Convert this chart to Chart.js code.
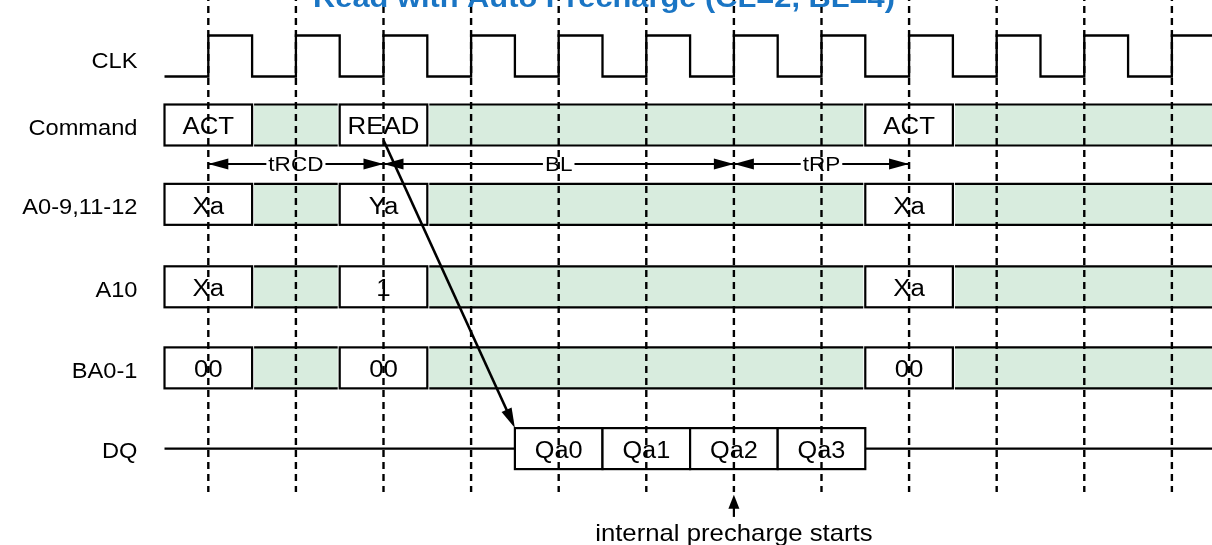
<!DOCTYPE html>
<html>
<head>
<meta charset="utf-8">
<script src="https://cdn.jsdelivr.net/npm/chart.js@4.4.1/dist/chart.umd.min.js"></script>
<style>
  html, body { margin: 0; padding: 0; background: #fff; }
  #wrap { width: 1212px; height: 545px; position: relative; }
</style>
</head>
<body>
<div id="wrap"><canvas id="timing"></canvas></div>
<script>
/* global Chart */
// time is in clock cycles, rising edge k sits at t = k
const titleText = 'Read with Auto Precharge (CL=2, BL=4)';
const rowNames = ['CLK', 'Command', 'A0-9,11-12', 'A10', 'BA0-1', 'DQ'];
const rowLevels = [0, 1, 2.15, 3.345, 4.52, 5.69];
const clockRise = [0, 1, 2, 3, 4, 5, 6, 7, 8, 9, 10, 11];
// bus rows: segment edges, text per segment (null = don't care / green)
const busEdges = [-0.5, 0.5, 1.5, 2.5, 7.5, 8.5, 11.6];
const cmdText = ['ACT', null, 'READ', null, 'ACT', null];
const addrText = ['Xa', null, 'Ya', null, 'Xa', null];
const a10Text = ['Xa', null, '1', null, 'Xa', null];
const baText = ['00', null, '00', null, '00', null];
const dqEdges = [3.5, 4.5, 5.5, 6.5, 7.5];
const dqText = ['Qa0', 'Qa1', 'Qa2', 'Qa3'];
// timing spans
const spanFrom = [0, 2, 6];
const spanTo = [2, 6, 8];
const spanText = ['tRCD', 'BL', 'tRP'];
const spanLevel = 1.565;
// READ -> Qa0 arrow, precharge marker
const readArrowFrom = [2, 1.22];
const readArrowTo = [3.5, 5.39];
const prechargeAt = 6;
const prechargeText = 'internal precharge starts';
const dashTop = -0.9;
const dashBottom = 6.32;

const green = 'rgb(216, 236, 222)';
const stretch = 1.1;
const fam = '"Liberation Sans", Arial, Helvetica, sans-serif';
const half = 0.297;

// text with its caps centred on y, slightly widened like the source
function stext(ctx, txt, x, y, size, align, weight, color) {
    ctx.save();
    ctx.font = (weight || 'normal') + ' ' + size + 'px ' + fam;
    ctx.fillStyle = color || '#000';
    ctx.textBaseline = 'alphabetic';
    const w = ctx.measureText(txt).width * stretch;
    let x0 = x;
    if (align === 'center') x0 = x - w / 2;
    if (align === 'right') x0 = x - w;
    ctx.translate(x0, y + size * 0.36);
    ctx.scale(stretch, 1);
    ctx.fillText(txt, 0, 0);
    ctx.restore();
    return w;
}

function arrowHead(ctx, x1, y1, x2, y2, len, wid) {
    const a = Math.atan2(y2 - y1, x2 - x1);
    ctx.save();
    ctx.translate(x2, y2);
    ctx.rotate(a);
    ctx.beginPath();
    ctx.moveTo(0, 0);
    ctx.lineTo(-len, -wid / 2);
    ctx.lineTo(-len, wid / 2);
    ctx.closePath();
    ctx.fillStyle = '#000';
    ctx.fill();
    ctx.restore();
}

// clock waveform from the rising edges
const clockPts = [{ x: -0.5, y: rowLevels[0] + half }];
clockRise.forEach(k => {
    clockPts.push({ x: k, y: rowLevels[0] + half });
    clockPts.push({ x: k, y: rowLevels[0] - half });
    clockPts.push({ x: k + 0.5, y: rowLevels[0] - half });
    clockPts.push({ x: k + 0.5, y: rowLevels[0] + half });
});

const dqLine = [
    { x: -0.5, y: rowLevels[5] }, { x: dqEdges[0], y: rowLevels[5] },
    { x: dqEdges[0], y: null },
    { x: dqEdges[dqEdges.length - 1], y: rowLevels[5] }, { x: 11.6, y: rowLevels[5] }
];

const datasets = [
    { data: clockPts, borderColor: '#000', borderWidth: 2.3, pointRadius: 0, tension: 0 },
    { data: dqLine, borderColor: '#000', borderWidth: 2.2, pointRadius: 0, spanGaps: false }
];
clockRise.forEach(k => {
    datasets.push({
        data: [{ x: k, y: dashTop }, { x: k, y: dashBottom }],
        borderColor: '#000', borderWidth: 2.4, borderDash: [7, 5], pointRadius: 0
    });
});

const diagram = {
    id: 'diagram',
    beforeDatasetsDraw(chart) {
        const ctx = chart.ctx;
        const xs = chart.scales.x, ys = chart.scales.y;
        const px = v => xs.getPixelForValue(v);
        const py = v => ys.getPixelForValue(v);
        ctx.save();
        // row names
        rowNames.forEach((n, i) => {
            stext(ctx, n, px(-0.5) - 27, py(rowLevels[i]) + (i === 0 ? 4 : 2), 21.5, 'right');
        });
        // bus rows
        const buses = [[1, cmdText], [2, addrText], [3, a10Text], [4, baText]];
        buses.forEach(([r, texts]) => {
            const top = py(rowLevels[r] - half), bot = py(rowLevels[r] + half);
            texts.forEach((t, i) => {
                const x1 = px(busEdges[i]), x2 = px(busEdges[i + 1]);
                ctx.lineWidth = 2.2;
                ctx.strokeStyle = '#000';
                if (t === null) {
                    ctx.fillStyle = green;
                    ctx.fillRect(x1 + 2, top, x2 - x1 - 4, bot - top);
                    ctx.beginPath();
                    ctx.moveTo(x1 + 2, top); ctx.lineTo(x2 - 2, top);
                    ctx.moveTo(x1 + 2, bot); ctx.lineTo(x2 - 2, bot);
                    ctx.stroke();
                } else {
                    ctx.fillStyle = '#fff';
                    ctx.fillRect(x1, top, x2 - x1, bot - top);
                    ctx.strokeRect(x1, top, x2 - x1, bot - top);
                    stext(ctx, t, (x1 + x2) / 2, (top + bot) / 2 + 1, 23.5, 'center');
                }
            });
        });
        // DQ burst
        const dtop = py(rowLevels[5] - half), dbot = py(rowLevels[5] + half);
        dqText.forEach((t, i) => {
            const x1 = px(dqEdges[i]), x2 = px(dqEdges[i + 1]);
            ctx.fillStyle = '#fff';
            ctx.fillRect(x1, dtop, x2 - x1, dbot - dtop);
            ctx.lineWidth = 2.2;
            ctx.strokeStyle = '#000';
            ctx.strokeRect(x1, dtop, x2 - x1, dbot - dtop);
            stext(ctx, t, (x1 + x2) / 2, (dtop + dbot) / 2 + 1, 23, 'center');
        });
        // timing spans
        const sy = py(spanLevel);
        spanText.forEach((t, i) => {
            const a = px(spanFrom[i]), b = px(spanTo[i]);
            ctx.lineWidth = 2;
            ctx.strokeStyle = '#000';
            ctx.beginPath();
            ctx.moveTo(a, sy); ctx.lineTo(b, sy);
            ctx.stroke();
            arrowHead(ctx, b, sy, a, sy, 20, 11);
            arrowHead(ctx, a, sy, b, sy, 20, 11);
            const mid = px((spanFrom[i] + spanTo[i]) / 2);
            ctx.save();
            ctx.font = '20.5px ' + fam;
            const w = ctx.measureText(t).width * stretch;
            ctx.restore();
            ctx.fillStyle = '#fff';
            ctx.fillRect(mid - w / 2 - 2, sy - 11, w + 4, 22);
            stext(ctx, t, mid, sy, 20.5, 'center');
        });
        ctx.restore();
    },
    afterDatasetsDraw(chart) {
        const ctx = chart.ctx;
        const xs = chart.scales.x, ys = chart.scales.y;
        const px = v => xs.getPixelForValue(v);
        const py = v => ys.getPixelForValue(v);
        ctx.save();
        // READ -> first data arrow
        const ax1 = px(readArrowFrom[0]), ay1 = py(readArrowFrom[1]);
        const ax2 = px(readArrowTo[0]), ay2 = py(readArrowTo[1]);
        const ang = Math.atan2(ay2 - ay1, ax2 - ax1);
        ctx.lineWidth = 2.6;
        ctx.strokeStyle = '#000';
        ctx.beginPath();
        ctx.moveTo(ax1, ay1);
        ctx.lineTo(ax2 - 14 * Math.cos(ang), ay2 - 14 * Math.sin(ang));
        ctx.stroke();
        arrowHead(ctx, ax1, ay1, ax2, ay2, 20, 11);
        // precharge marker
        const mx = px(prechargeAt);
        ctx.lineWidth = 2.2;
        ctx.beginPath();
        ctx.moveTo(mx, py(6.5)); ctx.lineTo(mx, py(6.68));
        ctx.stroke();
        arrowHead(ctx, mx, py(6.68), mx, py(6.36), 14, 11);
        stext(ctx, prechargeText, mx, 541 - 23.4 * 0.36, 23.4, 'center');
        // title (clipped at top as in the source)
        stext(ctx, titleText, 604, 7 - 28 * 0.36, 28, 'center', 'bold', 'rgb(26, 117, 196)');
        ctx.restore();
    }
};

new Chart(document.getElementById('timing'), {
    type: 'line',
    data: { datasets: datasets },
    options: {
        responsive: true,
        maintainAspectRatio: false,
        animation: false,
        layout: { padding: 0 },
        scales: {
            x: { type: 'linear', min: -2.378, max: 11.458, display: false },
            y: { type: 'linear', min: -0.8116, max: 7.087, reverse: true, display: false }
        },
        plugins: {
            legend: { display: false },
            tooltip: { enabled: false },
            title: { display: false }
        },
        elements: { line: { tension: 0 }, point: { radius: 0 } }
    },
    plugins: [diagram]
});
</script>
</body>
</html>
